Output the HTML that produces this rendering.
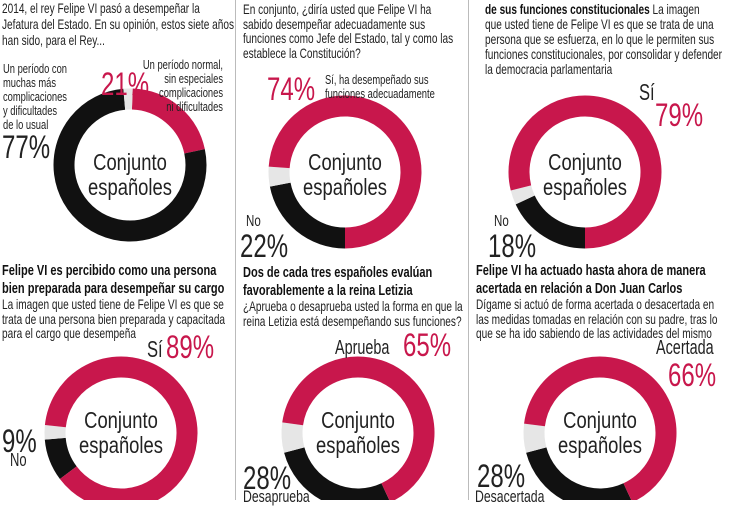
<!DOCTYPE html>
<html><head><meta charset="utf-8"><style>
body{margin:0;width:730px;height:500px;background:#fff;position:relative;overflow:hidden;font-family:"Liberation Sans",sans-serif;color:#222}
.t{position:absolute;font-size:14px;line-height:16px;white-space:nowrap;transform:scaleX(.72);transform-origin:0 0}
.b{font-weight:bold;font-size:14.5px;color:#111}
.bb{font-weight:bold;color:#111}
.r{color:#c8174c}
.big{position:absolute;font-size:32px;line-height:32px;white-space:nowrap;transform:scaleX(.75);transform-origin:0 0}
.cj{position:absolute;font-size:23px;line-height:25px;text-align:center;width:120px;white-space:nowrap;transform:scaleX(.8);transform-origin:50% 0}
.vl{position:absolute;top:0;width:1px;height:500px;background:#bbb}
svg{position:absolute;left:0;top:0}
</style></head><body>
<div class="vl" style="left:235px"></div>
<div class="vl" style="left:468px"></div>
<svg width="730" height="500"></svg>
<script>
const NS="http://www.w3.org/2000/svg";
const svg=document.querySelector('svg');
function arc(cx,cy,r,a0,a1,col,w){
 const p=document.createElementNS(NS,'path');
 const rad=a=>(a-90)*Math.PI/180;
 const x0=cx+r*Math.cos(rad(a0)),y0=cy+r*Math.sin(rad(a0));
 const x1=cx+r*Math.cos(rad(a1)),y1=cy+r*Math.sin(rad(a1));
 const large=(a1-a0)>180?1:0;
 p.setAttribute('d',`M${x0} ${y0} A${r} ${r} 0 ${large} 1 ${x1} ${y1}`);
 p.setAttribute('fill','none');p.setAttribute('stroke',col);p.setAttribute('stroke-width',w);
 svg.appendChild(p);
}
function donut(cx,cy,segs){for(const s of segs)arc(cx,cy,66,s[0],s[1],s[2],21);}
const R='#c8174c',K='#111',G='#e6e6e6';
donut(130,165,[[2,78,R],[78,355,K],[355,362,G]]);
donut(345,172,[[180,259,K],[259,274,G],[274,540,R]]);
donut(585,172,[[180,245,K],[245,256,G],[256,540,R]]);
donut(121,433,[[233,265,K],[265,276,G],[276,593,R]]);
donut(358,433,[[155,255,K],[255,278,G],[278,515,R]]);
donut(600,433,[[155,255,K],[255,277,G],[277,515,R]]);
</script>
<!-- col 1 top -->
<div class="t" style="left:2px;top:0">2014, el rey Felipe VI pasó a desempeñar la<br>Jefatura del Estado. En su opinión, estos siete años<br>han sido, para el Rey...</div>
<div class="t" style="left:3px;top:62px;font-size:13px;line-height:14px">Un período con<br>muchas más<br>complicaciones<br>y dificultades<br>de lo usual</div>
<div class="big" style="left:2px;top:131px">77%</div>
<div class="big r" style="left:101px;top:68px">21%</div>
<div class="t" style="left:107px;top:58px;font-size:13px;line-height:14px;text-align:right;width:116px;transform-origin:100% 0">Un período normal,<br>sin especiales<br>complicaciones<br>ni dificultades</div>
<div class="cj" style="left:70px;top:150px">Conjunto<br>españoles</div>
<!-- col 2 top -->
<div class="t" style="left:243px;top:2px;line-height:14.5px">En conjunto, ¿diría usted que Felipe VI ha<br>sabido desempeñar adecuadamente sus<br>funciones como Jefe del Estado, tal y como las<br>establece la Constitución?</div>
<div class="big r" style="left:267px;top:73px">74%</div>
<div class="t" style="left:325px;top:73px;font-size:13px;line-height:14px">Sí, ha desempeñado sus<br>funciones adecuadamente</div>
<div class="cj" style="left:285px;top:150px">Conjunto<br>españoles</div>
<div class="t" style="left:246px;top:214px;font-size:16px">No</div>
<div class="big" style="left:240px;top:230px">22%</div>
<!-- col 3 top -->
<div class="t" style="left:485px;top:2px;line-height:15px"><span class="bb">de sus funciones constitucionales</span> La imagen<br>que usted tiene de Felipe VI es que se trata de una<br>persona que se esfuerza, en lo que le permiten sus<br>funciones constitucionales, por consolidar y defender<br>la democracia parlamentaria</div>
<div class="t" style="left:639px;top:80px;font-size:23px;line-height:24px">Sí</div>
<div class="big r" style="left:655px;top:99px">79%</div>
<div class="cj" style="left:525px;top:150px">Conjunto<br>españoles</div>
<div class="t" style="left:494px;top:214px;font-size:16px">No</div>
<div class="big" style="left:488px;top:230px">18%</div>
<!-- bottom col 1 -->
<div class="t b" style="left:2px;top:262px;line-height:18px;transform:scaleX(.76)">Felipe VI es percibido como una persona<br>bien preparada para desempeñar su cargo</div>
<div class="t" style="left:2px;top:297px;line-height:14.5px">La imagen que usted tiene de Felipe VI es que se<br>trata de una persona bien preparada y capacitada<br>para el cargo que desempeña</div>
<div class="t" style="left:147px;top:337px;font-size:23px;line-height:24px">Sí</div>
<div class="big r" style="left:166px;top:331px">89%</div>
<div class="cj" style="left:61px;top:408px">Conjunto<br>españoles</div>
<div class="big" style="left:2px;top:425px">9%</div>
<div class="t" style="left:10px;top:452px;font-size:18px">No</div>
<!-- bottom col 2 -->
<div class="t b" style="left:243px;top:264px;line-height:18px;transform:scaleX(.76)">Dos de cada tres españoles evalúan<br>favorablemente a la reina Letizia</div>
<div class="t" style="left:243px;top:299px;line-height:14.5px">¿Aprueba o desaprueba usted la forma en que la<br>reina Letizia está desempeñando sus funciones?</div>
<div class="t" style="left:335px;top:338px;font-size:20px;line-height:20px">Aprueba</div>
<div class="big r" style="left:403px;top:329px">65%</div>
<div class="cj" style="left:298px;top:408px">Conjunto<br>españoles</div>
<div class="big" style="left:243px;top:462px">28%</div>
<div class="t" style="left:243px;top:489px;font-size:17px">Desaprueba</div>
<!-- bottom col 3 -->
<div class="t b" style="left:476px;top:262px;line-height:18px;transform:scaleX(.76)">Felipe VI ha actuado hasta ahora de manera<br>acertada en relación a Don Juan Carlos</div>
<div class="t" style="left:476px;top:297px;line-height:14.5px">Dígame si actuó de forma acertada o desacertada en<br>las medidas tomadas en relación con su padre, tras lo<br>que se ha ido sabiendo de las actividades del mismo</div>
<div class="t" style="left:656px;top:338px;font-size:20px;line-height:20px">Acertada</div>
<div class="big r" style="left:668px;top:359px">66%</div>
<div class="cj" style="left:540px;top:408px">Conjunto<br>españoles</div>
<div class="big" style="left:477px;top:460px">28%</div>
<div class="t" style="left:475px;top:489px;font-size:17px">Desacertada</div>
</body></html>
